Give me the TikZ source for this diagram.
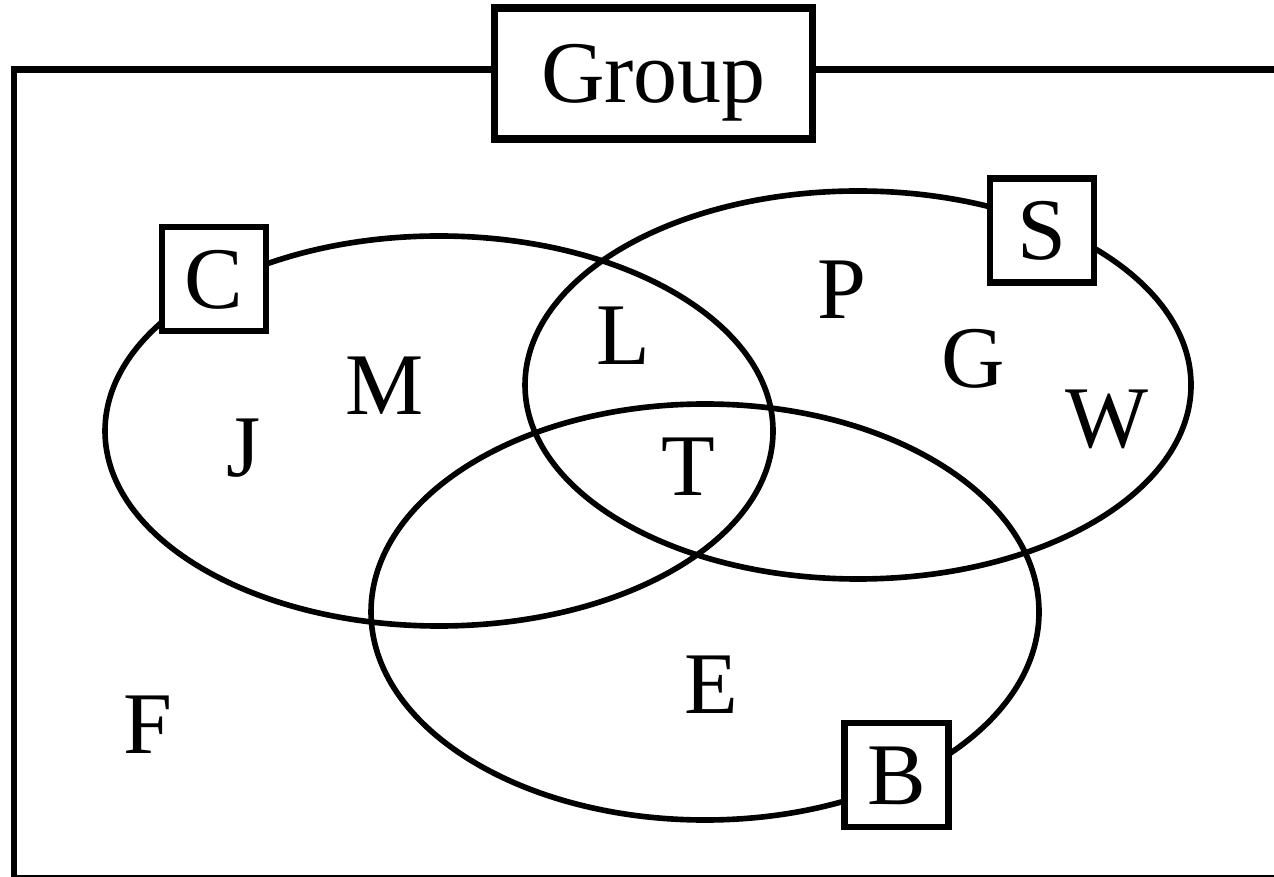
\documentclass[tikz,border=0pt]{standalone}
\usepackage{fontspec}
\setmainfont{Liberation Serif}
\tikzset{
    every node/.style={font=\fontsize{25}{30}\selectfont},
    member/.style={anchor=base, inner sep=0pt},
    tag/.style={draw, fill=white, line width=1.95pt, inner sep=0pt,
        minimum width=1.04cm, minimum height=1.04cm,
        text height=16.5pt, text depth=0pt},
    setline/.style={line width=1.6pt}
}
\begin{document}
\begin{tikzpicture}[x=0.01cm, y=-0.01cm]
                    \useasboundingbox (0,0) rectangle (1274,877);
                    \begin{scope}
                        \clip (0,0) rectangle (1274,877);
                        \draw[line width=1.8pt] (14,69.5) rectangle (1300,878);
                    \end{scope}
                    
                    \draw[setline] (439,431) ellipse [x radius=334, y radius=195];
                    \draw[setline] (858,385) ellipse [x radius=333, y radius=194];
                    \draw[setline] (705,612) ellipse [x radius=334, y radius=208];
                    
                    \node[tag, minimum width=3.18cm, minimum height=1.31cm, line width=2.05pt] (group) at (653.5,73.5) {Group};
                    \node[tag] (c) at (214,279) {C};
                    \node[tag] (s) at (1042,230.5) {S};
                    \node[tag] (b) at (896.5,775) {B};
                    
                    \node[member] (j) at (244,477) {J};
                    \node[member] (m) at (385,415) {M};
                    \node[member] (l) at (623,365) {L};
                    \node[member] (p) at (842,319) {P};
                    \node[member] (g) at (973,388) {G};
                    \node[member] (w) at (1107,448) {W};
                    \node[member] (t) at (688,495) {T};
                    \node[member] (e) at (711,713) {E};
                    \node[member] (f) at (147.5,753) {F};
                \end{tikzpicture}
\end{document}
